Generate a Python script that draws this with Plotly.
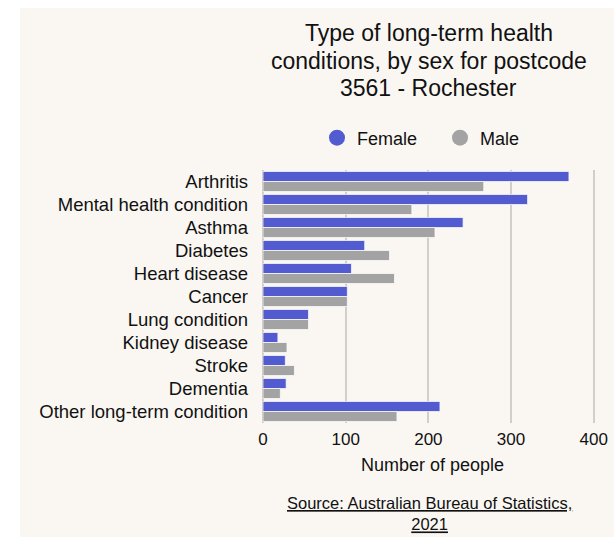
import plotly.graph_objects as go

# Long-term health conditions by sex, postcode 3561 - Rochester (ABS Census 2021)
conditions = [
    "Arthritis",
    "Mental health condition",
    "Asthma",
    "Diabetes",
    "Heart disease",
    "Cancer",
    "Lung condition",
    "Kidney disease",
    "Stroke",
    "Dementia",
    "Other long-term condition",
]
female = [370, 320, 242, 123, 107, 102, 55, 18, 27, 28, 214]
male = [267, 180, 208, 153, 159, 102, 55, 29, 38, 21, 162]
x_ticks = [0, 100, 200, 300, 400]
title_lines = [
    "Type of long-term health",
    "conditions, by sex for postcode",
    "3561 - Rochester",
]

FEMALE_COLOR = "#525bd0"
MALE_COLOR = "#a3a3a4"
BG = "#faf7f3"
TEXT = "#111111"
FONT = "Liberation Sans, Arial, sans-serif"

W, H = 614, 537
L, R, T, B = 263, 12, 170, 114
PW, PH = W - L - R, H - T - B


def px_x(x):
    """Pixel column -> paper x."""
    return (x - L) / PW


def px_y(y):
    """Pixel row -> paper y."""
    return 1 - (y - T) / PH


fig = go.Figure()

for name, vals, color in [("Female", female, FEMALE_COLOR), ("Male", male, MALE_COLOR)]:
    fig.add_trace(go.Bar(
        y=conditions, x=vals, name=name, orientation="h",
        marker=dict(color=color, line=dict(color="rgba(255,255,255,0.7)", width=1)),
        showlegend=False,
        hovertemplate="%{y}: %{x}<extra>" + name + "</extra>",
    ))

# circular legend keys
for name, color in [("Female", FEMALE_COLOR), ("Male", MALE_COLOR)]:
    fig.add_trace(go.Scatter(
        x=[None], y=[None], mode="markers", name=name,
        marker=dict(color=color, size=16, symbol="circle"),
        showlegend=True,
    ))

# beige card behind the chart (leaves a white strip on the left and top)
fig.add_shape(
    type="rect", xref="paper", yref="paper", layer="below",
    x0=px_x(20), x1=px_x(W + 5),
    y0=px_y(H + 5), y1=px_y(8),
    fillcolor=BG, line=dict(width=0),
)

annotations = []
for i, line in enumerate(title_lines):
    annotations.append(dict(
        text=line, xref="paper", yref="paper",
        x=px_x(428.5), xanchor="center",
        y=px_y(33 + 27.5 * i), yanchor="middle",
        showarrow=False,
        font=dict(family=FONT, size=23, color=TEXT),
    ))
annotations.append(dict(
    text="<u>Source: Australian Bureau of Statistics,</u><br><u>2021</u>",
    xref="paper", yref="paper",
    x=px_x(429.5), xanchor="center",
    y=px_y(513), yanchor="middle",
    showarrow=False,
    font=dict(family=FONT, size=16.5, color=TEXT),
))

fig.update_layout(
    width=W, height=H,
    margin=dict(l=L, r=R, t=T, b=B, pad=0, autoexpand=False),
    paper_bgcolor="white",
    plot_bgcolor="rgba(0,0,0,0)",
    font=dict(family=FONT, size=18, color=TEXT),
    barmode="group",
    bargap=0.13,
    bargroupgap=0,
    legend=dict(
        orientation="h",
        x=px_x(440), xanchor="center",
        y=px_y(138), yanchor="middle",
        font=dict(family=FONT, size=18, color=TEXT),
        bgcolor="rgba(0,0,0,0)",
        itemsizing="trace",
        entrywidth=78, entrywidthmode="pixels",
    ),
    xaxis=dict(
        range=[0, 410],
        tickvals=x_ticks,
        ticktext=[str(v) for v in x_ticks],
        showgrid=True, gridcolor="#d2cec9", gridwidth=1.5,
        zeroline=True, zerolinecolor="#d2cec9", zerolinewidth=1.5,
        showline=False, ticks="",
        tickfont=dict(size=17),
        ticklabelstandoff=4,
        title=dict(text="Number of people", standoff=10, font=dict(size=18)),
        automargin=False,
        fixedrange=True,
    ),
    yaxis=dict(
        categoryorder="array", categoryarray=conditions,
        autorange="reversed",
        showgrid=False, showline=False, ticks="",
        ticklabelstandoff=14,
        tickfont=dict(size=18.5),
        automargin=False,
        fixedrange=True,
    ),
    annotations=annotations,
)

fig.write_html("out.html")
